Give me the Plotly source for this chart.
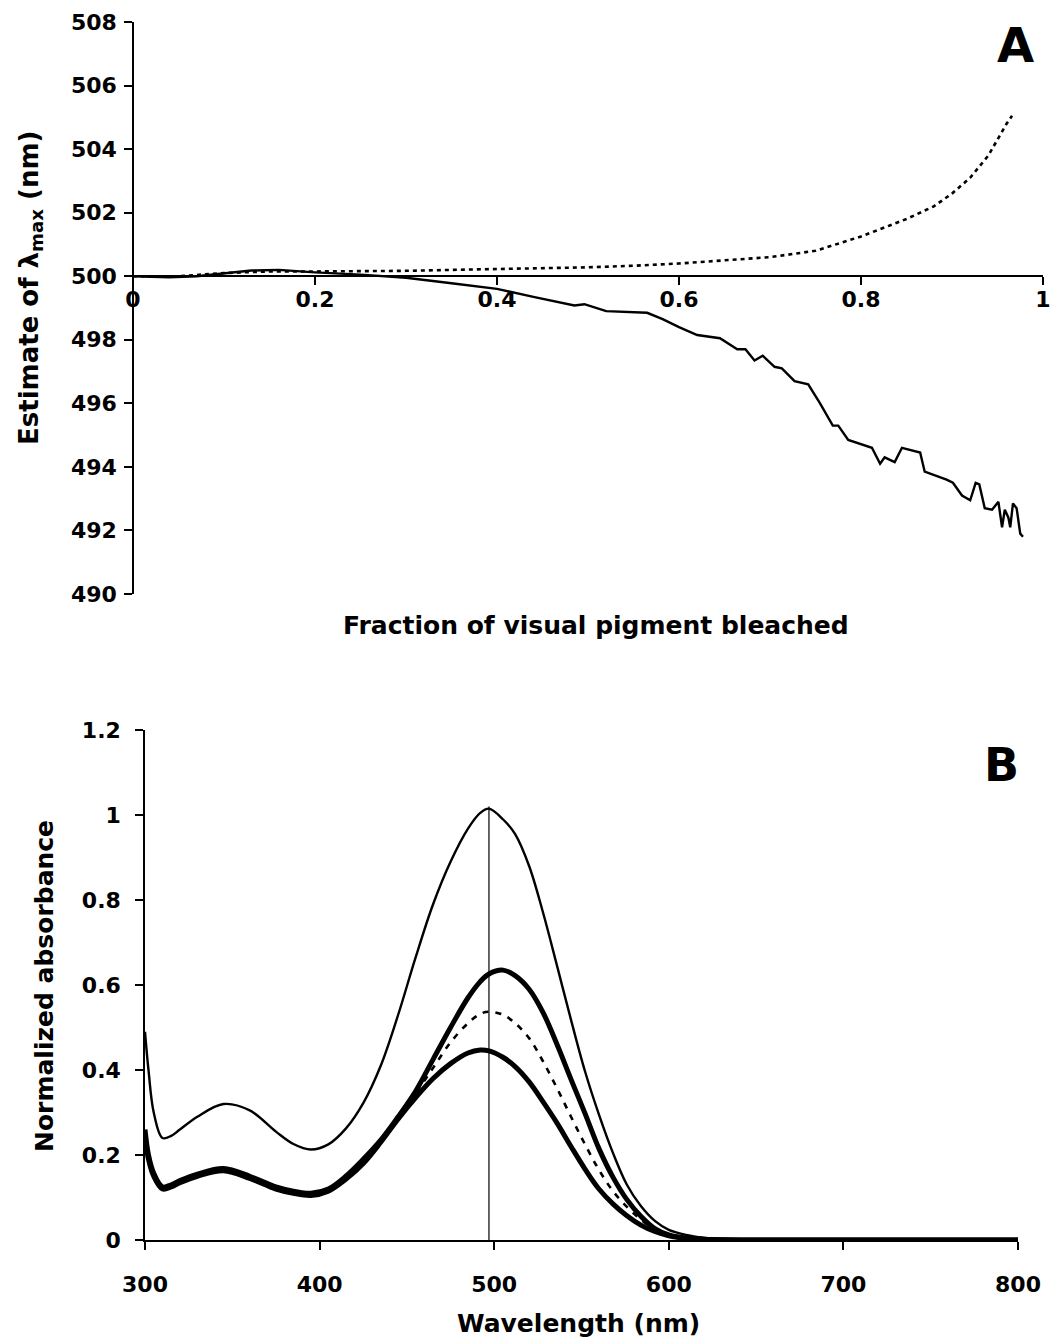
import plotly.graph_objects as go

# ---------------- Panel A data ----------------
frac_dashed = [0, 0.05, 0.1, 0.15, 0.2, 0.25, 0.3, 0.35, 0.4, 0.45, 0.5, 0.55, 0.6,
               0.65, 0.7, 0.75, 0.8, 0.85, 0.88, 0.9, 0.92, 0.94, 0.96, 0.966]
lmax_dashed = [500.0, 500.0, 500.1, 500.15, 500.15, 500.15, 500.17, 500.2, 500.22, 500.25,
               500.28, 500.33, 500.4, 500.5, 500.6, 500.8, 501.25, 501.8, 502.2, 502.6,
               503.1, 503.8, 504.8, 505.05]

frac_solid = [0, 0.04, 0.07, 0.1, 0.13, 0.16, 0.2, 0.25, 0.3, 0.35, 0.4, 0.44, 0.485,
              0.496, 0.52, 0.565, 0.582, 0.6, 0.62, 0.645, 0.664, 0.673, 0.683, 0.692,
              0.705, 0.713, 0.727, 0.742, 0.755, 0.769, 0.775, 0.786, 0.812, 0.821,
              0.826, 0.837, 0.845, 0.865, 0.870, 0.894, 0.901, 0.911, 0.920, 0.926,
              0.930, 0.936, 0.944, 0.951, 0.955, 0.958, 0.962, 0.964, 0.967, 0.971,
              0.975, 0.978]
lmax_solid = [500.0, 499.97, 500.0, 500.1, 500.18, 500.2, 500.12, 500.05, 499.95, 499.78,
              499.6, 499.35, 499.08, 499.12, 498.9, 498.85, 498.65, 498.4, 498.15, 498.05,
              497.7, 497.7, 497.35, 497.5, 497.15, 497.1, 496.7, 496.6, 496.0, 495.3,
              495.3, 494.85, 494.6, 494.1, 494.3, 494.15, 494.6, 494.45, 493.85, 493.6,
              493.5, 493.1, 492.95, 493.5, 493.45, 492.7, 492.65, 492.9, 492.1, 492.65,
              492.4, 492.1, 492.85, 492.7, 491.9, 491.8]

a_xticks = [0, 0.2, 0.4, 0.6, 0.8, 1]
a_yticks = [490, 492, 494, 496, 498, 500, 502, 504, 506, 508]

# ---------------- Panel B data ----------------
wavelength = [300, 302, 305, 310, 315, 320, 330, 345, 360, 375, 385, 395, 405, 415, 425,
              435, 445, 455, 465, 475, 485, 492, 497, 505, 512, 520, 528, 536, 544, 552,
              560, 568, 576, 584, 592, 600, 610, 620, 650, 700, 750, 800]
abs_total = [0.49, 0.40, 0.30, 0.24, 0.245, 0.26, 0.29, 0.32, 0.305, 0.255, 0.226, 0.213,
             0.225, 0.262, 0.322, 0.41, 0.53, 0.665, 0.79, 0.89, 0.968, 1.005, 1.015, 0.99,
             0.955, 0.88, 0.77, 0.645, 0.518, 0.397, 0.295, 0.205, 0.13, 0.08, 0.045,
             0.024, 0.012, 0.005, 0.001, 0.0, 0.0, 0.0]
abs_shift_long = [0.26, 0.20, 0.157, 0.125, 0.13, 0.14, 0.155, 0.168, 0.15, 0.125, 0.115,
                  0.11, 0.12, 0.15, 0.19, 0.235, 0.29, 0.35, 0.425, 0.50, 0.57, 0.608,
                  0.626, 0.635, 0.622, 0.59, 0.535, 0.46, 0.378, 0.298, 0.215, 0.148, 0.095,
                  0.056, 0.027, 0.012, 0.004, 0.002, 0.0, 0.0, 0.0, 0.0]
abs_half = [0.25, 0.20, 0.157, 0.123, 0.128, 0.138, 0.153, 0.166, 0.148, 0.123, 0.113,
            0.108, 0.118, 0.148, 0.188, 0.235, 0.29, 0.345, 0.405, 0.465, 0.51, 0.532,
            0.537, 0.53, 0.51, 0.475, 0.42, 0.357, 0.29, 0.225, 0.165, 0.115, 0.078,
            0.048, 0.025, 0.012, 0.004, 0.002, 0.0, 0.0, 0.0, 0.0]
abs_shift_short = [0.24, 0.19, 0.15, 0.12, 0.125, 0.135, 0.15, 0.163, 0.145, 0.12, 0.11,
                   0.105, 0.115, 0.143, 0.18, 0.23, 0.285, 0.335, 0.38, 0.415, 0.44, 0.447,
                   0.445, 0.43, 0.408, 0.372, 0.325, 0.275, 0.22, 0.167, 0.12, 0.085, 0.057,
                   0.035, 0.02, 0.01, 0.004, 0.002, 0.0, 0.0, 0.0, 0.0]
peak_line_x = [497, 497]
peak_line_y = [0, 1.02]

b_xticks = [300, 400, 500, 600, 700, 800]
b_yticks = [0, 0.2, 0.4, 0.6, 0.8, 1, 1.2]

# ---------------- Figure ----------------
W, H = 1052, 1340
FONT = "DejaVu Sans"
tickfont = dict(family=FONT, size=22, color="black", weight="bold")

fig = go.Figure()

# Panel A
fig.add_trace(go.Scatter(x=frac_dashed, y=lmax_dashed, mode="lines",
                         line=dict(color="black", width=2.6, dash="4px,4px"),
                         xaxis="x", yaxis="y", showlegend=False))
fig.add_trace(go.Scatter(x=frac_solid, y=lmax_solid, mode="lines",
                         line=dict(color="black", width=2.4),
                         xaxis="x", yaxis="y", showlegend=False))

# Panel B
spl = dict(shape="spline", smoothing=1.0)
fig.add_trace(go.Scatter(x=peak_line_x, y=peak_line_y, mode="lines",
                         line=dict(color="black", width=1.2),
                         xaxis="x2", yaxis="y2", showlegend=False))
fig.add_trace(go.Scatter(x=wavelength, y=abs_total, mode="lines",
                         line=dict(color="black", width=2.4, **spl),
                         xaxis="x2", yaxis="y2", showlegend=False))
fig.add_trace(go.Scatter(x=wavelength, y=abs_half, mode="lines",
                         line=dict(color="black", width=2.6, dash="6px,7px", **spl),
                         xaxis="x2", yaxis="y2", showlegend=False))
fig.add_trace(go.Scatter(x=wavelength, y=abs_shift_long, mode="lines",
                         line=dict(color="black", width=5, **spl),
                         xaxis="x2", yaxis="y2", showlegend=False))
fig.add_trace(go.Scatter(x=wavelength, y=abs_shift_short, mode="lines",
                         line=dict(color="black", width=5, **spl),
                         xaxis="x2", yaxis="y2", showlegend=False))

# domains from pixel layout
ax_l, ax_r = 133 / W, 1043 / W
ay_b, ay_t = 1 - 594 / H, 1 - 22 / H
a_x_pos = ay_b + (500 - 490) / (508 - 490) * (ay_t - ay_b)

bx_l, bx_r = 145 / W, 1018 / W
by_b, by_t = 1 - 1240 / H, 1 - 730 / H

common = dict(showgrid=False, zeroline=False, showline=True, linecolor="black",
              linewidth=1.5, ticks="outside", ticklen=8, tickwidth=1.5,
              tickcolor="black", tickfont=tickfont, automargin=False)

fig.update_layout(
    width=W, height=H, margin=dict(l=0, r=0, t=0, b=0),
    paper_bgcolor="white", plot_bgcolor="white",
    xaxis=dict(domain=[ax_l, ax_r], range=[0, 1], anchor="free", position=a_x_pos,
               tickvals=a_xticks, ticktext=["0", "0.2", "0.4", "0.6", "0.8", "1"],
               ticklabelstandoff=-4, **common),
    yaxis=dict(domain=[ay_b, ay_t], range=[490, 508], anchor="free", position=ax_l,
               tickvals=a_yticks, ticklabelstandoff=3, **common),
    xaxis2=dict(domain=[bx_l, bx_r], range=[300, 800], anchor="y2",
                tickvals=b_xticks, ticklabelstandoff=16, **common),
    yaxis2=dict(domain=[by_b, by_t], range=[0, 1.2], anchor="x2",
                tickvals=b_yticks, ticktext=["0", "0.2", "0.4", "0.6", "0.8", "1", "1.2"],
                ticklabelstandoff=10, **common),
)

titlefont = dict(family=FONT, size=25, color="black", weight="bold")
ytitlefont = dict(family=FONT, size=26, color="black", weight="bold")
annotations = [
    dict(text="Estimate of λ<sub>max</sub> (nm)", x=30 / W, y=1 - 288 / H, textangle=-90,
         font=ytitlefont),
    dict(text="Fraction of visual pigment bleached", x=596 / W, y=1 - 625 / H,
         font=titlefont),
    dict(text="Normalized absorbance", x=44 / W, y=1 - 986 / H, textangle=-90,
         font=titlefont),
    dict(text="Wavelength (nm)", x=578 / W, y=1 - 1323 / H, font=titlefont),
    dict(text="A", x=1015 / W, y=1 - 45 / H,
         font=dict(family=FONT, size=48, color="black", weight="bold")),
    dict(text="B", x=1001 / W, y=1 - 765 / H,
         font=dict(family=FONT, size=46, color="black", weight="bold")),
]
for a in annotations:
    a.update(xref="paper", yref="paper", showarrow=False, xanchor="center", yanchor="middle")
fig.update_layout(annotations=annotations)

fig.write_html("out.html")
